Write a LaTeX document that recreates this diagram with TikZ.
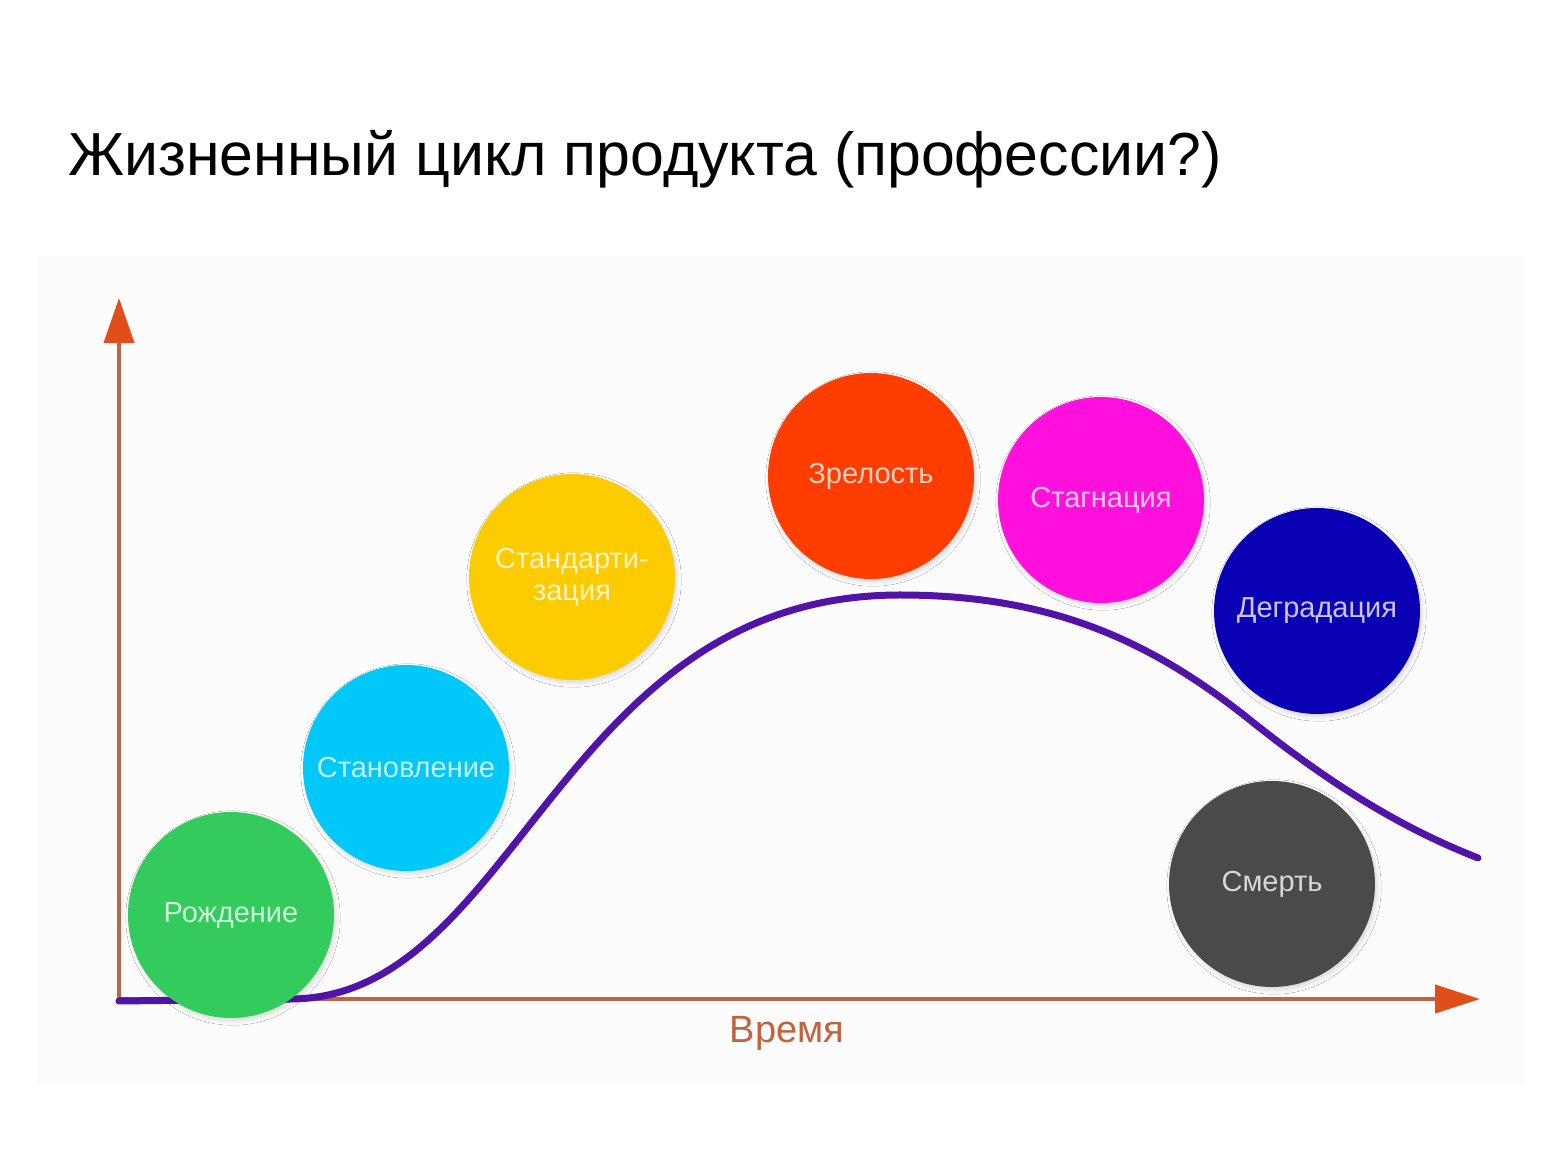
\documentclass[tikz,border=0pt]{standalone}
\usepackage{fontspec}
\setmainfont{Liberation Sans}
\usetikzlibrary{arrows.meta,shadows.blur}
\definecolor{axisline}{HTML}{B8654A}
\definecolor{axistip}{HTML}{E04E1C}
\definecolor{curvec}{HTML}{5214A8}
\definecolor{cgreen}{HTML}{33CC5C}
\definecolor{ccyan}{HTML}{00C8F8}
\definecolor{cyellow}{HTML}{FCCB00}
\definecolor{cred}{HTML}{FF3D00}
\definecolor{cmag}{HTML}{FF10DC}
\definecolor{cblue}{HTML}{0A00B4}
\definecolor{cgray}{HTML}{4A4A4A}
\definecolor{timec}{HTML}{C0643C}
\tikzset{
  stage/.style={circle, minimum size=103pt, inner sep=0pt, fill=#1,
    text=white!78!#1, font=\fontsize{14.5}{16}\selectfont, align=center,
    blur shadow={shadow blur steps=6, shadow xshift=1pt, shadow yshift=-1.5pt, shadow opacity=14}},
  axisarrow/.style={draw=axisline, line width=2pt},
}
\begin{document}
\begin{tikzpicture}[x=0.5pt,y=-0.5pt]
\useasboundingbox (0,0) rectangle (1560,1170);
\fill[black!1] (38,255) rectangle (1525,1085);
\node[anchor=base west, inner sep=0pt, font=\fontsize{30.4}{36}\selectfont] (title) at (68,176) {Жизненный цикл продукта (профессии?)};
% axes
\coordinate (origin) at (119,999);
\coordinate (ytip) at (119,298);
\coordinate (xtip) at (1480,999);
\draw[axisarrow, -{Triangle[length=22.5pt,width=15pt,color=axistip]}] (119,1000) -- (ytip);
\draw[axisarrow, -{Triangle[length=22.5pt,width=14pt,color=axistip]}] (117,999) -- (xtip);
\node[text=timec, font=\fontsize{19}{22}\selectfont] (time) at (787,1033) {Время};
% curve
\draw[curvec, line width=3.5pt, line cap=round] (119,1001) -- (290,999)
  .. controls (517,999) and (558,595) .. (900,595)
  .. controls (1050,595) and (1150,640) .. (1250,720)
  .. controls (1350,800) and (1420,835) .. (1478,858);
% stages
\node[stage=cgreen] (birth) at (231,915) {Рождение};
\node[stage=ccyan] (form) at (406,768) {Становление};
\node[stage=cyellow] (std) at (572,577) {Стандарти-\\зация};
\node[stage=cred] (mature) at (871,476) {Зрелость};
\node[stage=cmag] (stag) at (1101,500) {Стагнация};
\node[stage=cblue] (degr) at (1317,611) {Деградация};
\node[stage=cgray] (death) at (1272,884) {Смерть};
\end{tikzpicture}
\end{document}
